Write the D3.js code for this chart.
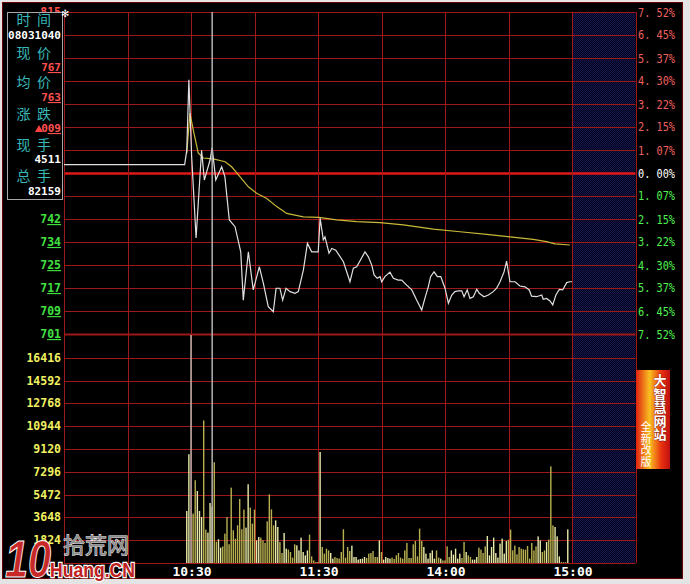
<!DOCTYPE html>
<html><head><meta charset="utf-8">
<script src="https://cdn.jsdelivr.net/npm/d3@7"></script>
<style>body{margin:0;background:#fff;} svg{display:block}</style>
</head><body><svg id="c" width="690" height="584"></svg>
<script>
// ---------- DATA ----------
const prevClose = 7.58;
const pctTicks = [7.52,6.45,5.37,4.30,3.22,2.15,1.07,0,-1.07,-2.15,-3.22,-4.30,-5.37,-6.45,-7.52];
const priceTickLabels = ["815","807","799","791","783","774","766","758","750","742","734","725","717","709","701"];
const volTicks = [16416,14592,12768,10944,9120,7296,5472,3648,1824];
const timeLabels = ["09:30","10:30","11:30","14:00","15:00"];
const timeLabelMinutes = [0,60,120,180,240];

const priceMinutes = [0,57,58,59,60.3,62.4,65,66.3,69,70,71.7,74.5,76,78.1,80.8,83.5,84.7,87.1,89.4,92.3,94.2,96.5,98.9,100.2,102,103.3,104.9,106.8,109.1,110.7,113.1,115,117,120.1,121,122.5,123.3,125.2,126.5,128.4,132,135.1,136.7,138.3,142.2,143.8,145.4,146.5,148,149.3,150.1,151.6,154,155.6,157.9,159.5,161.9,164.3,166.6,169,170.5,172.1,173.2,174.8,176.4,178,180,181.6,183.2,184.7,186.3,187.9,189,190.5,191.8,193.4,195,196.2,198.4,200.5,202.8,204.4,206,207.9,209.1,210.7,213.1,215.4,217.8,219.8,220.9,223.3,225.7,226.4,228,229.6,230.9,232.4,234,235.6,237.5,239,240];
const priceValues = [7.61,7.61,7.66,7.91,7.64,7.35,7.66,7.555,7.626,7.67,7.555,7.602,7.567,7.414,7.39,7.301,7.13,7.301,7.166,7.248,7.189,7.107,7.089,7.172,7.172,7.13,7.172,7.16,7.154,7.16,7.237,7.331,7.301,7.301,7.42,7.343,7.354,7.296,7.313,7.307,7.266,7.195,7.243,7.248,7.301,7.283,7.254,7.219,7.207,7.213,7.195,7.213,7.229,7.207,7.201,7.201,7.183,7.166,7.13,7.095,7.136,7.177,7.213,7.23,7.213,7.213,7.172,7.119,7.148,7.16,7.163,7.163,7.142,7.166,7.136,7.142,7.168,7.154,7.142,7.148,7.16,7.172,7.195,7.23,7.268,7.195,7.195,7.18,7.177,7.166,7.144,7.142,7.148,7.133,7.136,7.127,7.113,7.148,7.168,7.166,7.192,7.195,7.195];

const avgMinutes = [58,59.5,61.1,63.4,65.8,70.5,76.1,79.2,83.1,87.1,91,95.8,100.5,105.2,113.1,120.5,128.8,138.3,149.3,160.3,174.5,187.1,199.7,210.7,221.7,228,231.9,239];
const avgValues = [7.65,7.792,7.732,7.651,7.633,7.63,7.62,7.602,7.567,7.531,7.508,7.49,7.461,7.437,7.425,7.423,7.414,7.408,7.404,7.396,7.381,7.372,7.363,7.354,7.345,7.337,7.329,7.325];

const volStart = 58;
const volumes = [4160,8700,19300,3950,6620,5760,4160,3680,11400,2670,2430,4800,4511,8060,1700,1900,1230,1330,2350,3680,1500,6030,2620,1950,3020,5120,2700,4270,2830,6300,4430,3150,4270,1810,2080,2030,1810,1600,3330,5490,4290,3010,3410,2880,1680,800,2400,1150,1070,880,430,1490,1410,1010,2030,880,610,1010,2270,530,210,80,80,8880,1280,750,1150,1010,800,350,480,400,350,880,2700,430,1280,960,1390,480,480,270,320,
350,480,400,750,800,960,480,480,1810,880,270,480,400,350,430,320,610,800,430,350,1010,1600,400,400,1490,1760,530,2750,1760,1280,750,350,800,1010,350,1010,430,350,210,210,1330,480,1010,670,1150,350,750,400,1680,880,610,480,270,270,480,1230,1070,800,1330,2160,610,1280,2030,800,430,1550,1950,750,1760,1870,2670,1010,1390,690,1280,1150,1090,1070,1360,350,1600,1010,1330,2130,1810,880,1010,1680,1870,7730,3010,2880,2130,530,80,50,50,2690];

const cursorMinute = 70;
const infoLabels = [["时","间"],["现","价"],["均","价"],["涨","跌"],["现","手"],["总","手"]];
const infoValues = ["08031040","767","763","009","4511","82159"];

// ---------- CHART ----------
const W = 690, H = 584;
const svg = d3.select("#c");
const x = d3.scaleLinear().domain([0,240]).range([64,572]);
const yPct = d3.scaleLinear().domain([-7.52,7.52]).range([334,12]);
const yPrice = p => yPct((p/prevClose - 1)*100);
const yVol = d3.scaleLinear().domain([0,18240]).range([563,335]).clamp(true);
const mono = "'DejaVu Sans Mono', 'Liberation Mono', monospace";
const cjk = "'Noto Sans CJK SC', sans-serif";
const boxTop = 12.5, boxBottom = 199.5;

svg.append("rect").attr("width",W).attr("height",H).attr("fill","#e4e4e4");
svg.append("rect").attr("x",2.5).attr("y",2.5).attr("width",680).attr("height",576)
  .attr("fill","#000").attr("stroke","#6a0000");

const defs = svg.append("defs");
const pat = defs.append("pattern").attr("id","hatch").attr("width",2).attr("height",2).attr("patternUnits","userSpaceOnUse");
pat.append("rect").attr("width",2).attr("height",2).attr("fill","#040418");
pat.append("rect").attr("width",1).attr("height",1).attr("fill","#161650");
pat.append("rect").attr("x",1).attr("y",1).attr("width",1).attr("height",1).attr("fill","#161650");

svg.append("rect").attr("x",x(240)).attr("y",12).attr("width",x(270)-x(240)).attr("height",563-12).attr("fill","url(#hatch)");

// grid
const grid = svg.append("g");
pctTicks.forEach(t => {
  const yy = Math.round(yPct(t)) + 0.5;
  grid.append("line").attr("x1",x(0)).attr("x2",x(270)).attr("y1",yy).attr("y2",yy)
    .attr("stroke", t===0 ? "#e01818" : "#a01818")
    .attr("stroke-width", t===0 ? 2.5 : (t===-7.52 ? 2 : 1));
});
volTicks.concat([0]).forEach(v => {
  const yy = Math.round(yVol(v)) + 0.5;
  grid.append("line").attr("x1",x(0)).attr("x2",x(270)).attr("y1",yy).attr("y2",yy)
    .attr("stroke","#a01818").attr("stroke-width",1);
});
d3.range(0,271,30).forEach(m => {
  const xx = Math.round(x(m)) + 0.5;
  grid.append("line").attr("x1",xx).attr("x2",xx).attr("y1",12).attr("y2",563)
    .attr("stroke","#a01818").attr("stroke-width",1);
});

// volume bars
const priceAt = d3.scaleLinear().domain(priceMinutes).range(priceValues);
svg.append("g").selectAll("rect").data(volumes).join("rect")
  .attr("x",(d,i)=>x(volStart+i)-0.7)
  .attr("width",1.4)
  .attr("y",d=>yVol(d))
  .attr("height",d=>563-yVol(d))
  .attr("fill",(d,i)=>{
    const m = volStart+i;
    if (d > 18240) return "#c0c0b8";
    return priceAt(m) > priceAt(m-1) ? "#e8e8a8" : "#b8b050";
  });

// avg line
svg.append("path").datum(d3.zip(avgMinutes,avgValues))
  .attr("d", d3.line().x(d=>x(d[0])).y(d=>yPrice(d[1])))
  .attr("fill","none").attr("stroke","#c8b838").attr("stroke-width",1.2);
// price line
svg.append("path").datum(d3.zip(priceMinutes,priceValues))
  .attr("d", d3.line().x(d=>x(d[0])).y(d=>yPrice(d[1])))
  .attr("fill","none").attr("stroke","#e0e0e0").attr("stroke-width",1.2);

// cursor
svg.append("line").attr("x1",x(cursorMinute)).attr("x2",x(cursorMinute)).attr("y1",12).attr("y2",563)
  .attr("stroke","#b4b4b4").attr("stroke-width",1.5);

// left price labels (those covered by the info box are not visible)
const lp = svg.append("g").attr("font-family",mono).attr("font-weight","bold").attr("font-size",11.5).attr("text-anchor","end");
pctTicks.forEach((t,i) => {
  const yy = yPct(t);
  if (yy > boxTop + 2 && yy < boxBottom + 4) return;
  const s = priceTickLabels[i];
  const col = t>0 ? "#ff5050" : (t===0 ? "#ffffff" : "#40e040");
  const tx = lp.append("text").attr("x",61).attr("y",yy+4).attr("fill",col);
  tx.append("tspan").text(s.slice(0,1));
  tx.append("tspan").attr("text-decoration","underline").text(s.slice(1));
});
// volume labels
const lv = svg.append("g").attr("font-family",mono).attr("font-weight","bold").attr("font-size",11.5).attr("text-anchor","end").attr("fill","#f0f060");
volTicks.forEach(v => lv.append("text").attr("x",61).attr("y",yVol(v)+4).text(v));

// right pct labels
const rp = svg.append("g").attr("font-family",mono).attr("font-size",12);
pctTicks.forEach(t => {
  const s = Math.abs(t).toFixed(2).replace(".",". ") + "%";
  rp.append("text").attr("x",638).attr("y",yPct(t)+4.5)
    .attr("textLength",37).attr("lengthAdjust","spacingAndGlyphs")
    .attr("fill", t>0 ? "#f06060" : (t===0 ? "#ffffff" : "#50f050")).text(s);
});

// time labels
const tl = svg.append("g").attr("font-family",mono).attr("font-weight","bold").attr("font-size",13).attr("fill","#ffffff").attr("text-anchor","middle");
timeLabels.forEach((s,i)=> tl.append("text").attr("x",x(timeLabelMinutes[i])+1).attr("y",576).text(s));

// info box
svg.append("rect").attr("x",7.5).attr("y",boxTop).attr("width",55).attr("height",boxBottom-boxTop)
  .attr("fill","#000").attr("stroke","#a8a8a8").attr("stroke-width",1);
const ib = svg.append("g");
const labelY = [25,58,87,119,150,181];
infoLabels.forEach((pair,i)=>{
  ib.append("text").attr("x",23.5).attr("y",labelY[i]).attr("text-anchor","middle").attr("font-family",cjk).attr("font-size",14).attr("fill","#38b8b8").text(pair[0]);
  ib.append("text").attr("x",44).attr("y",labelY[i]).attr("text-anchor","middle").attr("font-family",cjk).attr("font-size",14).attr("fill","#38b8b8").text(pair[1]);
});
const valY = [39,71,101,132,163,195];
const valCol = ["#ffffff","#ff5050","#ff5050","#ff5050","#ffffff","#ffffff"];
infoValues.forEach((v,i)=>{
  const t = ib.append("text").attr("x",61).attr("y",valY[i]).attr("text-anchor","end")
    .attr("font-family",mono).attr("font-weight","bold").attr("font-size",11).attr("fill",valCol[i]);
  if (i===1 || i===2 || i===3) {
    t.append("tspan").text(v.slice(0,1));
    t.append("tspan").attr("text-decoration","underline").text(v.slice(1));
  } else t.text(v);
});
// triangle for 涨跌
ib.append("path").attr("d","M35,132 L39,125 L43,132 Z").attr("fill","#ff4040");
// star icon
svg.append("text").attr("x",65).attr("y",17).attr("text-anchor","middle").attr("font-size",10).attr("fill","#ffffff").text("✻");

// ad block
const adGrad = defs.append("linearGradient").attr("id","adg").attr("x1",0).attr("x2",1).attr("y1",0).attr("y2",0);
adGrad.append("stop").attr("offset","0%").attr("stop-color","#e02010");
adGrad.append("stop").attr("offset","40%").attr("stop-color","#f8c020");
adGrad.append("stop").attr("offset","75%").attr("stop-color","#e83010");
adGrad.append("stop").attr("offset","100%").attr("stop-color","#c01010");
svg.append("rect").attr("x",636).attr("y",370).attr("width",34).attr("height",99).attr("fill","url(#adg)");
const ad1 = ["大","智","慧","网","站"];
ad1.forEach((c,i)=> svg.append("text").attr("x",660).attr("y",385+i*13.5).attr("text-anchor","middle")
  .attr("font-family",cjk).attr("font-weight","bold").attr("font-size",13).attr("fill","#ffffff")
  .attr("stroke","#600000").attr("stroke-width",0.6).attr("paint-order","stroke").text(c));
const ad2 = ["全","新","改","版"];
ad2.forEach((c,i)=> svg.append("text").attr("x",646).attr("y",431+i*11.5).attr("text-anchor","middle")
  .attr("font-family",cjk).attr("font-size",11).attr("fill","#ffffff").text(c));

// watermark
const wm = svg.append("g");
wm.append("text").attr("x",5).attr("y",577).attr("font-family","'Liberation Sans', sans-serif").attr("font-weight","bold")
  .attr("font-style","italic").attr("font-size",52).attr("textLength",46).attr("lengthAdjust","spacingAndGlyphs")
  .attr("fill","#c82828").attr("stroke","#ffffff").attr("stroke-width",1).text("10");
wm.append("text").attr("x",63).attr("y",553).attr("font-family",cjk).attr("font-size",22)
  .attr("fill","#8a8a8a").attr("stroke","#ffffff").attr("stroke-width",0.8).attr("paint-order","stroke").text("拾荒网");
wm.append("text").attr("x",50).attr("y",577).attr("font-family","'Liberation Sans', sans-serif").attr("font-weight","bold")
  .attr("font-size",21).attr("textLength",85).attr("lengthAdjust","spacingAndGlyphs")
  .attr("fill","#c02020").attr("stroke","#ffffff").attr("stroke-width",2.5).attr("paint-order","stroke").text("Huang.CN");
</script>
</body></html>
